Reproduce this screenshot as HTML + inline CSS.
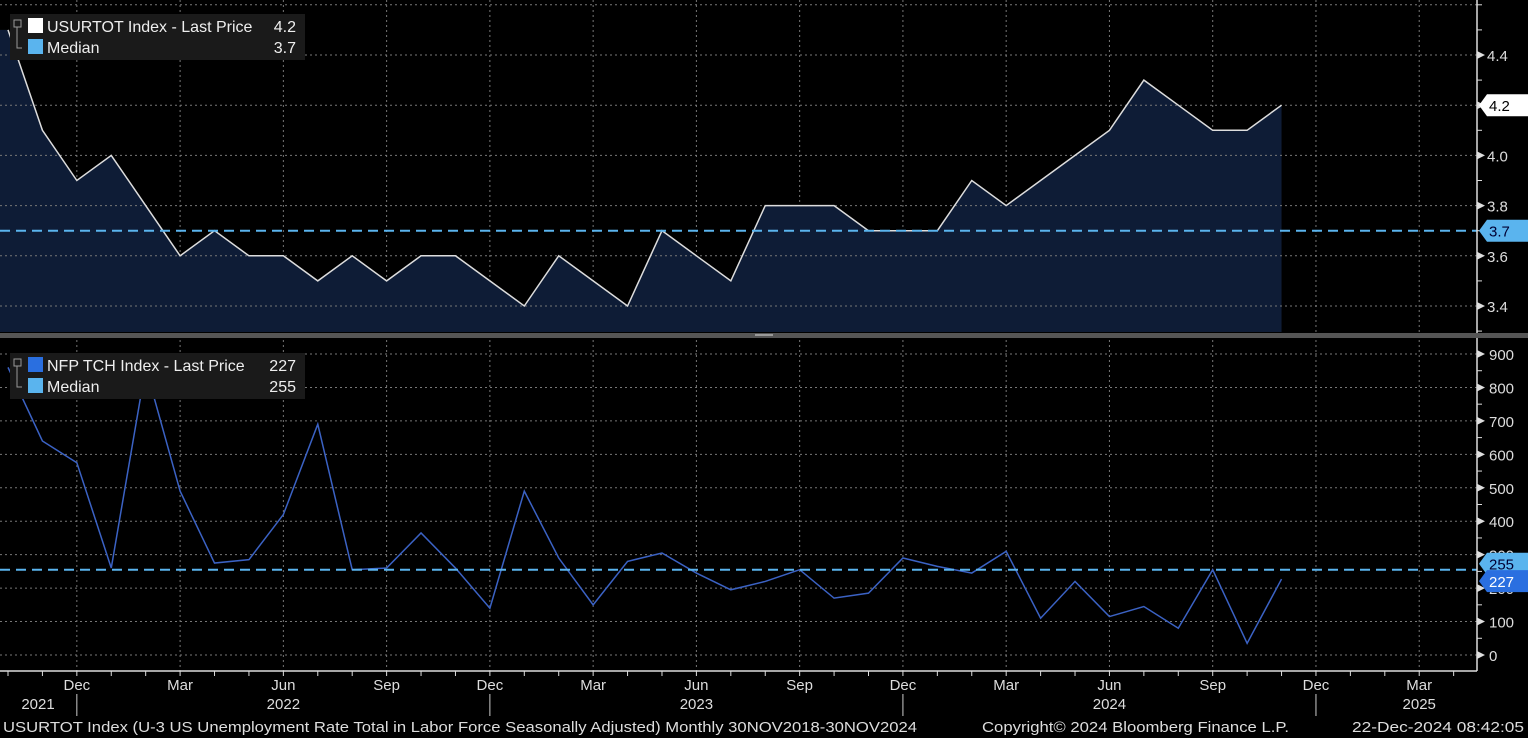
<!DOCTYPE html>
<html><head><meta charset="utf-8"><style>
html,body{margin:0;padding:0;background:#000;width:1528px;height:738px;overflow:hidden}
svg{display:block;font-family:"Liberation Sans",sans-serif}
</style></head><body>
<svg id="c" width="1528" height="738"></svg>
<script>
const months=["Oct21","Nov21","Dec21","Jan22","Feb22","Mar22","Apr22","May22","Jun22","Jul22","Aug22","Sep22","Oct22","Nov22","Dec22","Jan23","Feb23","Mar23","Apr23","May23","Jun23","Jul23","Aug23","Sep23","Oct23","Nov23","Dec23","Jan24","Feb24","Mar24","Apr24","May24","Jun24","Jul24","Aug24","Sep24","Oct24","Nov24"];
const unemp=[4.5,4.1,3.9,4.0,3.8,3.6,3.7,3.6,3.6,3.5,3.6,3.5,3.6,3.6,3.5,3.4,3.6,3.5,3.4,3.7,3.6,3.5,3.8,3.8,3.8,3.7,3.7,3.7,3.9,3.8,3.9,4.0,4.1,4.3,4.2,4.1,4.1,4.2];
const nfp=[860,640,575,260,860,490,275,285,420,690,255,260,365,260,140,490,290,150,280,305,245,195,220,255,170,185,290,265,245,310,110,220,115,145,80,255,35,227];
const unempMedian=3.7, nfpMedian=255;
const topTicks=[3.4,3.6,3.8,4.0,4.2,4.4];
const botTicks=[0,100,200,300,400,500,600,700,800,900];
const axisMonths=["Dec","Mar","Jun","Sep","Dec","Mar","Jun","Sep","Dec","Mar","Jun","Sep","Dec","Mar"];
const years=["2021","2022","2023","2024","2025"];

const NS="http://www.w3.org/2000/svg",svg=document.getElementById('c');
function el(t,a,txt){const e=document.createElementNS(NS,t);for(const k in a)e.setAttribute(k,a[k]);if(txt!=null)e.textContent=txt;svg.appendChild(e);return e;}
const MW=34.42;
const x=i=>8+i*MW;
const yT=v=>306-(v-3.4)*251;
const yB=v=>655-v*301/900;
const R=1477;

for(let i=2;x(i)<R;i+=3){
  let g=el('line',{x1:x(i),x2:x(i),y1:0,y2:332,stroke:'#777','stroke-dasharray':'2,3'});
  
  let g2=el('line',{x1:x(i),x2:x(i),y1:340,y2:671,stroke:'#777','stroke-dasharray':'2,3'});
  
}
let pts=unemp.map((v,i)=>x(i)+','+yT(v));
let area=el('polygon',{points:'0,332 0,'+yT(unemp[0])+' '+pts.join(' ')+' '+x(unemp.length-1)+',332',fill:'#0e1c36'});

topTicks.concat([4.6]).forEach(v=>{
  let g=el('line',{x1:0,x2:R,y1:yT(v),y2:yT(v),stroke:'#777','stroke-dasharray':'2,3'});
  
});
let ln=el('polyline',{points:pts.join(' '),fill:'none',stroke:'#ddd','stroke-width':1.5});

let md=el('line',{x1:0,x2:R,y1:yT(unempMedian),y2:yT(unempMedian),stroke:'#5ab4ee','stroke-width':2,'stroke-dasharray':'10,6'});


botTicks.forEach(v=>{
  let g=el('line',{x1:0,x2:R,y1:yB(v),y2:yB(v),stroke:'#777','stroke-dasharray':'2,3'});
  
});
let ln2=el('polyline',{points:nfp.map((v,i)=>x(i)+','+yB(v)).join(' '),fill:'none',stroke:'#3b62c4','stroke-width':1.5});

let md2=el('line',{x1:0,x2:R,y1:yB(nfpMedian),y2:yB(nfpMedian),stroke:'#5ab4ee','stroke-width':2,'stroke-dasharray':'10,6'});


let sep=el('rect',{x:0,y:333,width:1528,height:5,fill:'#555'});

el('rect',{x:755,y:334,width:18,height:2,fill:'#999'});
el('line',{x1:R,x2:R,y1:0,y2:333,stroke:'#ddd','stroke-width':1.5});
el('line',{x1:R,x2:R,y1:338,y2:671,stroke:'#ddd','stroke-width':1.5});
el('line',{x1:0,x2:R,y1:671,y2:671,stroke:'#ddd','stroke-width':1.5});
for(let v=3.3;v<=4.61;v+=0.1){el('line',{x1:R,x2:R+5,y1:yT(v),y2:yT(v),stroke:'#ddd'});}
topTicks.forEach(v=>{
  el('path',{d:`M${R} ${yT(v)-4}L${R+8} ${yT(v)}L${R} ${yT(v)+4}Z`,fill:'#ddd'});
  if(v!==4.2){let t=el('text',{x:R+10,y:yT(v)+6,fill:'#ddd','font-size':15},v.toFixed(1));
  }
});
for(let v=50;v<900;v+=100){el('line',{x1:R,x2:R+5,y1:yB(v),y2:yB(v),stroke:'#ddd'});}
botTicks.forEach(v=>{
  el('path',{d:`M${R} ${yB(v)-4}L${R+8} ${yB(v)}L${R} ${yB(v)+4}Z`,fill:'#ddd'});
  let t=el('text',{x:R+12,y:yB(v)+6,fill:'#ddd','font-size':15},String(v));
  
});
function tag(y,txt,bg,fg,name){
  let p=el('path',{d:`M${R+2} ${y}L${R+10} ${y-11}H1528V${y+11}H${R+10}Z`,fill:bg});
  
  el('text',{x:R+12,y:y+6,fill:fg,'font-size':15},txt);
}
tag(yT(4.2),'4.2','#fff','#000','last-price-tag-top');
tag(yT(unempMedian),'3.7','#5ab4ee','#003','median-tag-top');
tag(yB(nfpMedian)-6,'255','#5ab4ee','#003','median-tag-bottom');
tag(yB(227)+2,'227','#2a6fe0','#fff','last-price-tag-bottom');
for(let i=0;x(i)<R;i++){el('line',{x1:x(i),x2:x(i),y1:671,y2:676,stroke:'#ddd'});}
axisMonths.forEach((m,k)=>{
  let t=el('text',{x:x(2+3*k),y:690,fill:'#ddd','font-size':15,'text-anchor':'middle'},m);
  
});
[2,14,26,38].forEach(i=>el('line',{x1:x(i),x2:x(i),y1:694,y2:716,stroke:'#ccc'}));
[38,x(8),x(20),x(32),x(41)].forEach((p,k)=>{
  let t=el('text',{x:p,y:709,fill:'#ddd','font-size':15,'text-anchor':'middle'},years[k]);
  
});
function legend(y0,name,label,val,col,med){
  let r=el('rect',{x:10,y:y0,width:295,height:46,fill:'#1a1a1a'});
  
  el('rect',{x:14,y:y0+6,width:7,height:7,fill:'none',stroke:'#999'});
  el('path',{d:`M17 ${y0+13}V${y0+34}H22`,stroke:'#999',fill:'none'});
  el('rect',{x:28,y:y0+4,width:15,height:15,fill:col});
  el('rect',{x:28,y:y0+25,width:15,height:15,fill:'#5ab4ee'});
  el('text',{x:47,y:y0+18,fill:'#eee','font-size':16},label);
  el('text',{x:296,y:y0+18,fill:'#eee','font-size':16,'text-anchor':'end'},val);
  el('text',{x:47,y:y0+39,fill:'#eee','font-size':16},'Median');
  el('text',{x:296,y:y0+39,fill:'#eee','font-size':16,'text-anchor':'end'},med);
}
legend(14,'legend-top','USURTOT Index - Last Price','4.2','#fff','3.7');
legend(353,'legend-bottom','NFP TCH Index - Last Price','227','#2a6fe0','255');
let f=el('text',{x:3,y:732,fill:'#ddd','font-size':15,textLength:914,lengthAdjust:'spacingAndGlyphs'},'USURTOT Index (U-3 US Unemployment Rate Total in Labor Force Seasonally Adjusted)  Monthly 30NOV2018-30NOV2024');

let f2=el('text',{x:982,y:732,fill:'#ddd','font-size':15,textLength:307,lengthAdjust:'spacingAndGlyphs'},'Copyright© 2024 Bloomberg Finance L.P.');

let f3=el('text',{x:1352,y:732,fill:'#ddd','font-size':15,textLength:172,lengthAdjust:'spacingAndGlyphs'},'22-Dec-2024 08:42:05');

</script>
</body></html>
